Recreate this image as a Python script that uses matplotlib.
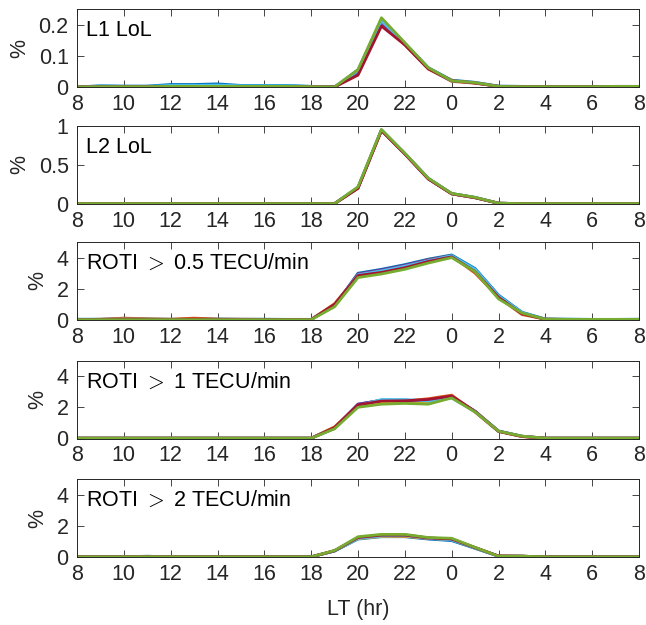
import matplotlib
matplotlib.use("Agg")
import matplotlib.pyplot as plt
import numpy as np

plt.rcParams["font.family"] = ["Liberation Sans", "DejaVu Sans"]
plt.rcParams["mathtext.fontset"] = "cm"

# hourly local time, 08 LT through 08 LT next day
LT_LABELS = [8, 10, 12, 14, 16, 18, 20, 22, 0, 2, 4, 6, 8]
HOURS = np.arange(25)

# MATLAB default line colours; green is drawn last so it sits on top
COLORS = ["#0072BD", "#D95319", "#EDB120", "#7E2F8E", "#4DBEEE", "#A2142F", "#77AC30"]

L1_LOL = [
    [0, .004, .003, .003, .008, .008, .010, .005, .005, .005, .002, 0, .055, .215, .140, .062, .022, .015, .003, .002, .001, .001, .001, .002, .002],
    [0, .001, .001, .002, .002, .002, .002, .002, .002, .002, .001, 0, .045, .205, .135, .058, .018, .012, .002, .001, .001, .001, .001, .001, .001],
    [0, .001, .001, .001, .002, .002, .002, .002, .001, .001, .001, 0, .050, .210, .138, .060, .020, .013, .002, .001, .001, .001, .001, .002, .002],
    [0, .001, .001, .001, .002, .002, .002, .002, .001, .001, .001, 0, .045, .205, .137, .060, .020, .013, .002, .001, .001, .001, .001, .002, .002],
    [0, .003, .002, .002, .005, .005, .006, .004, .004, .004, .002, 0, .052, .212, .140, .060, .020, .014, .002, .001, .001, .001, .001, .002, .002],
    [0, .001, .001, .001, .001, .001, .001, .001, .001, .001, .001, 0, .038, .195, .135, .058, .020, .013, .002, .001, .001, .001, .001, .001, .001],
    [0, .001, .001, .001, .002, .002, .002, .002, .002, .002, .001, 0, .056, .222, .142, .062, .020, .014, .002, .001, .001, .001, .001, .002, .002],
]

L2_LOL = [
    [.005, .005, .005, .005, .005, .005, .005, .005, .005, .005, .005, .005, .215, .950, .648, .330, .135, .085, .010, .005, .005, .005, .005, .005, .005],
    [.005, .005, .005, .005, .005, .005, .005, .005, .005, .005, .005, .005, .205, .945, .645, .325, .130, .082, .010, .005, .005, .005, .005, .005, .005],
    [.005, .005, .005, .005, .005, .005, .005, .005, .005, .005, .005, .005, .210, .948, .646, .328, .132, .083, .010, .005, .005, .005, .005, .005, .005],
    [.005, .005, .005, .005, .005, .005, .005, .005, .005, .005, .005, .005, .205, .945, .642, .322, .130, .080, .010, .005, .005, .005, .005, .005, .005],
    [.005, .005, .005, .005, .005, .005, .005, .005, .005, .005, .005, .005, .212, .950, .648, .330, .134, .084, .010, .005, .005, .005, .005, .005, .005],
    [.005, .005, .005, .005, .005, .005, .005, .005, .005, .005, .005, .005, .200, .940, .640, .320, .130, .080, .010, .005, .005, .005, .005, .005, .005],
    [.005, .005, .005, .005, .005, .005, .005, .005, .005, .005, .005, .005, .220, .955, .650, .330, .135, .085, .010, .005, .005, .005, .005, .005, .005],
]

ROTI_05 = [
    [.05, .05, .08, .06, .05, .05, .06, .05, .05, .04, .04, .90, 3.00, 3.25, 3.55, 3.90, 4.17, 3.30, 1.60, .50, .06, .05, .04, .04, .05],
    [.02, .05, .12, .08, .05, .12, .06, .05, .04, .03, .03, 1.05, 2.85, 3.15, 3.45, 3.85, 4.10, 3.00, 1.45, .35, .05, .03, .02, .02, .02],
    [.03, .03, .05, .04, .03, .05, .04, .03, .03, .03, .03, .95, 2.90, 3.15, 3.45, 3.80, 4.08, 3.10, 1.50, .42, .05, .04, .03, .03, .03],
    [.03, .03, .04, .04, .03, .04, .04, .03, .03, .03, .03, .95, 2.95, 3.20, 3.50, 3.85, 4.10, 3.15, 1.50, .45, .05, .04, .03, .03, .03],
    [.04, .04, .06, .05, .04, .04, .05, .04, .04, .04, .04, .92, 2.90, 3.15, 3.45, 3.80, 4.12, 3.25, 1.55, .48, .06, .05, .04, .04, .04],
    [.03, .03, .05, .04, .03, .06, .04, .03, .03, .03, .03, 1.00, 2.85, 3.05, 3.35, 3.75, 4.05, 3.10, 1.45, .40, .05, .03, .02, .02, .02],
    [.02, .02, .02, .02, .02, .02, .02, .02, .02, .02, .02, .85, 2.72, 2.95, 3.25, 3.65, 4.00, 3.10, 1.35, .45, .05, .04, .04, .04, .04],
]

ROTI_1 = [
    [.02, .02, .02, .02, .02, .02, .02, .02, .02, .02, .02, .65, 2.20, 2.45, 2.45, 2.45, 2.65, 1.75, .48, .15, .02, .02, .02, .02, .02],
    [.02, .02, .02, .02, .02, .02, .02, .02, .02, .02, .02, .75, 2.15, 2.40, 2.40, 2.55, 2.78, 1.70, .45, .12, .02, .02, .02, .02, .02],
    [.02, .02, .02, .02, .02, .02, .02, .02, .02, .02, .02, .70, 2.10, 2.30, 2.30, 2.35, 2.65, 1.70, .47, .14, .02, .02, .02, .02, .02],
    [.02, .02, .02, .02, .02, .02, .02, .02, .02, .02, .02, .68, 2.20, 2.45, 2.40, 2.45, 2.70, 1.75, .47, .14, .02, .02, .02, .02, .02],
    [.02, .02, .02, .02, .02, .02, .02, .02, .02, .02, .02, .66, 2.10, 2.50, 2.50, 2.40, 2.60, 1.72, .48, .15, .02, .02, .02, .02, .02],
    [.02, .02, .02, .02, .02, .02, .02, .02, .02, .02, .02, .70, 2.15, 2.40, 2.42, 2.50, 2.72, 1.72, .46, .13, .02, .02, .02, .02, .02],
    [.02, .02, .02, .02, .02, .02, .02, .02, .02, .02, .02, .62, 2.00, 2.20, 2.25, 2.20, 2.60, 1.70, .47, .15, .02, .02, .02, .02, .02],
]

ROTI_2 = [
    [.01, .01, .01, .05, .01, .01, .01, .01, .01, .01, .01, .38, 1.15, 1.30, 1.30, 1.15, 1.05, .55, .05, .05, .01, .01, .01, .01, .01],
    [.01, .01, .01, .03, .01, .01, .01, .01, .01, .01, .01, .40, 1.20, 1.35, 1.35, 1.20, 1.12, .60, .06, .05, .01, .01, .01, .01, .01],
    [.01, .01, .01, .03, .01, .01, .01, .01, .01, .01, .01, .40, 1.18, 1.32, 1.33, 1.20, 1.12, .58, .06, .05, .01, .01, .01, .01, .01],
    [.01, .01, .01, .03, .01, .01, .01, .01, .01, .01, .01, .40, 1.25, 1.40, 1.42, 1.22, 1.15, .60, .06, .05, .01, .01, .01, .01, .01],
    [.01, .01, .01, .04, .01, .01, .01, .01, .01, .01, .01, .38, 1.20, 1.35, 1.38, 1.20, 1.10, .58, .05, .05, .01, .01, .01, .01, .01],
    [.01, .01, .01, .03, .01, .01, .01, .01, .01, .01, .01, .40, 1.25, 1.40, 1.40, 1.22, 1.15, .60, .06, .05, .01, .01, .01, .01, .01],
    [.01, .01, .01, .02, .01, .01, .01, .01, .01, .01, .01, .42, 1.30, 1.45, 1.45, 1.25, 1.20, .62, .05, .05, .01, .01, .01, .01, .01],
]

PANELS = [
    ("L1 LoL", L1_LOL, 0.25, [0, 0.1, 0.2], ["0", "0.1", "0.2"]),
    ("L2 LoL", L2_LOL, 1.0, [0, 0.5, 1], ["0", "0.5", "1"]),
    (r"ROTI $>$ 0.5 TECU/min", ROTI_05, 5, [0, 2, 4], ["0", "2", "4"]),
    (r"ROTI $>$ 1 TECU/min", ROTI_1, 5, [0, 2, 4], ["0", "2", "4"]),
    (r"ROTI $>$ 2 TECU/min", ROTI_2, 5, [0, 2, 4], ["0", "2", "4"]),
]

INK = "#262626"
FS = 15.5
fig = plt.figure(figsize=(6.46, 6.25), dpi=100)
bottoms = [0.8608, 0.6736, 0.4880, 0.2984, 0.1088]

for (label, series, ymax, yticks, ylabels), bottom in zip(PANELS, bottoms):
    ax = fig.add_axes([0.1192, bottom, 0.8700, 0.1248])
    for values, color in zip(series, COLORS):
        ax.plot(HOURS, values, color=color, linewidth=2.0)
    ax.set_xlim(0, 24)
    ax.set_ylim(0, ymax)
    ax.set_xticks(np.arange(0, 25, 2))
    ax.set_xticklabels([str(v) for v in LT_LABELS])
    ax.set_yticks(yticks)
    ax.set_yticklabels(ylabels)
    ax.tick_params(direction="in", top=True, right=True, length=5, width=0.6,
                   colors=INK, labelsize=FS)
    ax.tick_params(axis="x", pad=5)
    ax.tick_params(axis="y", pad=6)
    for spine in ax.spines.values():
        spine.set_color(INK)
        spine.set_linewidth(0.7)
    ax.set_ylabel("%", fontsize=FS, color=INK, labelpad=6)
    ax.text(0.016, 0.72, label, transform=ax.transAxes, fontsize=FS,
            color="black", va="center", ha="left")

ax.set_xlabel("LT (hr)", fontsize=FS, color=INK, labelpad=10)
fig.savefig("out.png", dpi=100, facecolor="white")
